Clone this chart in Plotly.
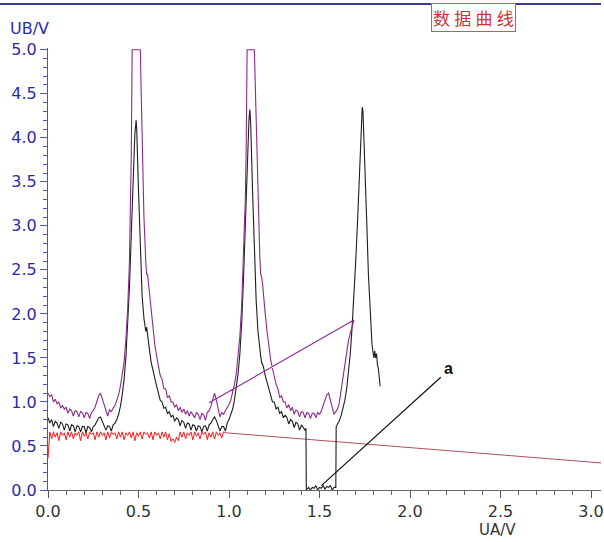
import plotly.graph_objects as go

# ---------------- data ----------------
purple_x = [0.00, 0.01, 0.02, 0.03, 0.04, 0.05, 0.06, 0.07, 0.08, 0.09,
            0.10, 0.11, 0.12, 0.13, 0.14, 0.15, 0.16, 0.17, 0.18, 0.19,
            0.20, 0.21, 0.22, 0.23, 0.24, 0.25, 0.26, 0.27, 0.28, 0.29,
            0.30, 0.31, 0.32, 0.33, 0.34, 0.35, 0.36, 0.37, 0.38, 0.39,
            0.40, 0.41, 0.42, 0.43, 0.44, 0.45, 0.455, 0.46, 0.465, 0.51,
            0.515, 0.52, 0.53, 0.54, 0.545, 0.55, 0.555, 0.56, 0.57, 0.58,
            0.59, 0.60, 0.61, 0.62, 0.63, 0.64, 0.65, 0.66, 0.67, 0.68,
            0.69, 0.70, 0.71, 0.72, 0.73, 0.74, 0.75, 0.76, 0.77, 0.78,
            0.79, 0.80, 0.81, 0.82, 0.83, 0.84, 0.85, 0.86, 0.87, 0.88,
            0.89, 0.90, 0.91, 0.92, 0.93, 0.94, 0.95, 0.96, 0.97, 0.98,
            0.99, 1.00, 1.01, 1.02, 1.03, 1.04, 1.05, 1.06, 1.07, 1.08,
            1.09, 1.095, 1.10, 1.14, 1.145, 1.15, 1.16, 1.17, 1.175, 1.18,
            1.185, 1.19, 1.20, 1.21, 1.22, 1.23, 1.24, 1.25, 1.26, 1.27,
            1.28, 1.29, 1.30, 1.31, 1.32, 1.33, 1.34, 1.35, 1.36, 1.37,
            1.38, 1.39, 1.40, 1.41, 1.42, 1.43, 1.44, 1.45, 1.46, 1.47,
            1.48, 1.49, 1.50, 1.51, 1.52, 1.53, 1.54, 1.55, 1.56, 1.57,
            1.58, 1.59, 1.60, 1.61, 1.62, 1.63, 1.64, 1.65, 1.66, 1.67,
            1.68, 1.69, 0.89]
purple_y = [1.10, 1.06, 1.08, 1.00, 1.03, 0.98, 1.00, 0.93, 0.96, 0.92,
            0.94, 0.87, 0.92, 0.90, 0.84, 0.90, 0.89, 0.83, 0.89, 0.88,
            0.82, 0.88, 0.87, 0.81, 0.88, 0.90, 0.94, 1.00, 1.07, 1.10,
            1.04, 0.96, 0.90, 0.84, 0.91, 0.89, 0.93, 0.96, 1.02, 1.08,
            1.18, 1.30, 1.45, 1.70, 2.05, 2.60, 3.10, 3.80, 5.00, 5.00,
            4.50, 3.90, 3.10, 2.60, 2.45, 2.45, 2.35, 2.25, 2.00, 1.80,
            1.65, 1.52, 1.42, 1.30, 1.26, 1.15, 1.15, 1.05, 1.07, 1.00,
            1.00, 0.94, 0.97, 0.90, 0.94, 0.88, 0.92, 0.86, 0.90, 0.84,
            0.89, 0.86, 0.82, 0.88, 0.86, 0.80, 0.87, 0.85, 0.79, 0.88,
            0.90, 0.95, 1.03, 1.10, 1.02, 0.92, 0.83, 0.88, 0.86, 0.90,
            0.93, 0.97, 1.02, 1.10, 1.20, 1.32, 1.50, 1.75, 2.10, 2.60,
            3.30, 3.90, 5.00, 5.00, 4.60, 4.00, 3.20, 2.65, 2.45, 2.42,
            2.35, 2.20, 2.00, 1.80, 1.62, 1.48, 1.38, 1.28, 1.20, 1.15,
            1.05, 1.07, 1.00, 1.00, 0.93, 0.97, 0.90, 0.94, 0.86, 0.91,
            0.89, 0.83, 0.89, 0.88, 0.82, 0.88, 0.87, 0.81, 0.87, 0.87,
            0.82, 0.88, 0.86, 0.90, 0.95, 1.02, 1.08, 1.10, 1.02, 0.92,
            0.86, 0.89, 0.92, 1.00, 1.15, 1.30, 1.45, 1.58, 1.70, 1.78,
            1.86, 1.93, 0.99]

black_x = [0.00, 0.01, 0.02, 0.03, 0.04, 0.05, 0.06, 0.07, 0.08, 0.09,
           0.10, 0.11, 0.12, 0.13, 0.14, 0.15, 0.16, 0.17, 0.18, 0.19,
           0.20, 0.21, 0.22, 0.23, 0.24, 0.25, 0.26, 0.27, 0.28, 0.29,
           0.30, 0.31, 0.32, 0.33, 0.34, 0.35, 0.36, 0.37, 0.38, 0.39,
           0.40, 0.41, 0.42, 0.43, 0.44, 0.45, 0.46, 0.47, 0.48, 0.487,
           0.49, 0.50, 0.51, 0.52, 0.53, 0.54, 0.545, 0.55, 0.56, 0.57,
           0.58, 0.59, 0.60, 0.61, 0.62, 0.63, 0.64, 0.65, 0.66, 0.67,
           0.68, 0.69, 0.70, 0.71, 0.72, 0.73, 0.74, 0.75, 0.76, 0.77,
           0.78, 0.79, 0.80, 0.81, 0.82, 0.83, 0.84, 0.85, 0.86, 0.87,
           0.88, 0.89, 0.90, 0.91, 0.92, 0.93, 0.94, 0.95, 0.96, 0.97,
           0.98, 0.99, 1.00, 1.01, 1.02, 1.03, 1.04, 1.05, 1.06, 1.07,
           1.08, 1.09, 1.10, 1.11, 1.115, 1.12, 1.13, 1.14, 1.15, 1.16,
           1.17, 1.175, 1.18, 1.19, 1.20, 1.21, 1.22, 1.23, 1.24, 1.25,
           1.26, 1.27, 1.28, 1.29, 1.30, 1.31, 1.32, 1.33, 1.34, 1.35,
           1.36, 1.37, 1.38, 1.39, 1.40, 1.41, 1.42, 1.425, 1.427, 1.44,
           1.45, 1.46, 1.47, 1.48, 1.49, 1.50, 1.51, 1.52, 1.53, 1.54,
           1.55, 1.56, 1.57, 1.58, 1.59, 1.592, 1.60, 1.61, 1.62, 1.63,
           1.64, 1.65, 1.66, 1.67, 1.68, 1.69, 1.70, 1.71, 1.72, 1.73,
           1.736, 1.74, 1.75, 1.76, 1.77, 1.78, 1.79, 1.80, 1.805, 1.81,
           1.815, 1.82, 1.825, 1.83, 1.835]
black_y = [0.82, 0.76, 0.80, 0.72, 0.78, 0.76, 0.70, 0.77, 0.75, 0.68,
           0.75, 0.74, 0.67, 0.74, 0.73, 0.66, 0.73, 0.72, 0.66, 0.72,
           0.72, 0.65, 0.72, 0.71, 0.66, 0.72, 0.74, 0.78, 0.82, 0.83,
           0.78, 0.74, 0.68, 0.73, 0.72, 0.67, 0.74, 0.76, 0.80, 0.86,
           0.95, 1.08, 1.25, 1.50, 1.85, 2.30, 2.90, 3.50, 4.05, 4.20,
           4.10, 3.40, 2.70, 2.20, 1.95, 1.80, 1.85, 1.75, 1.60, 1.45,
           1.35, 1.25, 1.18, 1.10, 1.02, 1.00, 0.93, 0.94, 0.87, 0.89,
           0.83, 0.85, 0.78, 0.82, 0.80, 0.73, 0.79, 0.77, 0.70, 0.76,
           0.75, 0.68, 0.74, 0.73, 0.67, 0.73, 0.72, 0.66, 0.72, 0.73,
           0.67, 0.74, 0.76, 0.80, 0.83, 0.79, 0.73, 0.67, 0.72, 0.72,
           0.67, 0.76, 0.80, 0.86, 0.92, 1.02, 1.15, 1.32, 1.55, 1.90,
           2.40, 3.00, 3.70, 4.20, 4.32, 4.15, 3.40, 2.70, 2.15, 1.80,
           1.55, 1.52, 1.45, 1.40, 1.30, 1.22, 1.15, 1.08, 1.00, 1.00,
           0.92, 0.94, 0.87, 0.89, 0.82, 0.85, 0.82, 0.75, 0.80, 0.78,
           0.71, 0.77, 0.75, 0.68, 0.74, 0.71, 0.68, 0.70, 0.00, 0.03,
           0.00, 0.03, 0.02, 0.05, 0.00, 0.03, 0.02, 0.05, 0.01, 0.04,
           0.03, 0.05, 0.00, 0.03, 0.03, 0.72, 0.75, 0.79, 0.85, 0.93,
           1.02, 1.15, 1.32, 1.55, 1.85, 2.20, 2.60, 3.05, 3.55, 4.05,
           4.35, 4.30, 3.80, 3.10, 2.45, 1.95, 1.65, 1.50, 1.58, 1.50,
           1.55, 1.42, 1.38, 1.28, 1.18]

red_x = [0.00, 0.01, 0.02, 0.03, 0.04, 0.05, 0.06, 0.07, 0.08, 0.09,
         0.10, 0.11, 0.12, 0.13, 0.14, 0.15, 0.16, 0.17, 0.18, 0.19,
         0.20, 0.21, 0.22, 0.23, 0.24, 0.25, 0.26, 0.27, 0.28, 0.29,
         0.30, 0.31, 0.32, 0.33, 0.34, 0.35, 0.36, 0.37, 0.38, 0.39,
         0.40, 0.41, 0.42, 0.43, 0.44, 0.45, 0.46, 0.47, 0.48, 0.49,
         0.50, 0.51, 0.52, 0.53, 0.54, 0.55, 0.56, 0.57, 0.58, 0.59,
         0.60, 0.61, 0.62, 0.63, 0.64, 0.65, 0.66, 0.67, 0.68, 0.69,
         0.70, 0.71, 0.72, 0.73, 0.74, 0.75, 0.76, 0.77, 0.78, 0.79,
         0.80, 0.81, 0.82, 0.83, 0.84, 0.85, 0.86, 0.87, 0.88, 0.89,
         0.90, 0.91, 0.92, 0.93, 0.94, 0.95, 0.96, 0.97, 0.98]
red_y = [0.36, 0.66, 0.58, 0.66, 0.60, 0.65, 0.56, 0.66, 0.62, 0.65,
         0.57, 0.66, 0.60, 0.66, 0.58, 0.65, 0.62, 0.66, 0.56, 0.66,
         0.61, 0.65, 0.58, 0.66, 0.63, 0.65, 0.57, 0.66, 0.60, 0.66,
         0.62, 0.65, 0.57, 0.66, 0.59, 0.66, 0.63, 0.65, 0.58, 0.66,
         0.60, 0.66, 0.57, 0.65, 0.62, 0.66, 0.59, 0.66, 0.56, 0.65,
         0.61, 0.66, 0.58, 0.66, 0.63, 0.65, 0.59, 0.66, 0.57, 0.66,
         0.62, 0.65, 0.58, 0.66, 0.60, 0.66, 0.57, 0.64, 0.55, 0.58,
         0.54, 0.60, 0.56, 0.66, 0.60, 0.66, 0.58, 0.65, 0.62, 0.66,
         0.57, 0.66, 0.61, 0.65, 0.58, 0.66, 0.63, 0.66, 0.57, 0.65,
         0.60, 0.66, 0.58, 0.66, 0.62, 0.65, 0.59, 0.66, 0.65]

trend_x = [0.98, 3.10]
trend_y = [0.65, 0.30]

pointer_x = [1.51, 2.17]
pointer_y = [0.05, 1.28]
pointer_label = "a"

x_ticks = [0.0, 0.5, 1.0, 1.5, 2.0, 2.5, 3.0]
y_ticks = [0.0, 0.5, 1.0, 1.5, 2.0, 2.5, 3.0, 3.5, 4.0, 4.5, 5.0]

title_text = "数据曲线"
x_title = "UA/V"
y_title = "UB/V"

# ---------------- figure ----------------
FONT = "DejaVu Sans, Verdana, sans-serif"
fig = go.Figure()

fig.add_trace(go.Scatter(x=trend_x, y=trend_y, mode="lines",
                         line=dict(color="#b0505a", width=1), hoverinfo="skip"))
fig.add_trace(go.Scatter(x=red_x, y=red_y, mode="lines",
                         line=dict(color="#ff1a1a", width=1), hoverinfo="skip"))
fig.add_trace(go.Scatter(x=black_x, y=black_y, mode="lines",
                         line=dict(color="#1e1e1e", width=1.1), hoverinfo="skip"))
fig.add_trace(go.Scatter(x=purple_x, y=purple_y, mode="lines",
                         line=dict(color="#8c2a8c", width=1.1), hoverinfo="skip"))
fig.add_trace(go.Scatter(x=pointer_x, y=pointer_y, mode="lines",
                         line=dict(color="#111111", width=1.2), hoverinfo="skip"))

fig.add_annotation(x=pointer_x[1], y=pointer_y[1], text="<b>" + pointer_label + "</b>",
                   showarrow=False, xanchor="left", yanchor="bottom", xshift=1, yshift=-2,
                   font=dict(family="Liberation Sans, Arial", size=16, color="#111111"))

fig.add_annotation(xref="paper", yref="paper", x=0.770, y=1.070,
                   xanchor="center", yanchor="middle",
                   text="\u2005".join(title_text),
                   showarrow=False, font=dict(family="Noto Sans CJK SC", size=17, color="#cc3333"),
                   bordercolor="#cc5555", borderwidth=1, borderpad=1, bgcolor="white")
fig.add_annotation(xref="paper", yref="paper", x=-0.073, y=1.043, text=y_title,
                   showarrow=False, xanchor="left", yanchor="middle",
                   font=dict(family=FONT, size=16, color="#2a2ab0"))
fig.add_annotation(xref="paper", yref="paper", x=0.813, y=-0.0895, text=x_title,
                   showarrow=False, xanchor="center", yanchor="middle",
                   font=dict(family=FONT, size=15, color="#333333"))

fig.add_shape(type="line", xref="paper", yref="paper", x0=-0.09, x1=1.0, y0=1.0995, y1=1.0995,
              line=dict(color="#3a3a8c", width=2))

fig.update_layout(
    width=604, height=542,
    margin=dict(l=48, r=0, t=48, b=52),
    paper_bgcolor="white", plot_bgcolor="white",
    showlegend=False,
    xaxis=dict(range=[0, 3.055], tickvals=x_ticks, tickformat=".1f",
               ticklabeloverflow="allow",
               showgrid=False, zeroline=False, showline=True, linecolor="#666666", linewidth=1,
               ticks="outside", ticklen=7, tickcolor="#555555",
               minor=dict(dtick=0.1, ticks="outside", ticklen=4, tickcolor="#666666"),
               tickfont=dict(family=FONT, size=16, color="#333333")),
    yaxis=dict(range=[0, 5.02], tickvals=y_ticks, tickformat=".1f",
               showgrid=False, zeroline=False, showline=True, linecolor="#5050c0", linewidth=1,
               ticks="outside", ticklen=7, tickcolor="#5050c0",
               minor=dict(dtick=0.1, ticks="outside", ticklen=4, tickcolor="#5050c0"),
               tickfont=dict(family=FONT, size=16, color="#2a2ab0")),
)

fig.write_html("out.html")
